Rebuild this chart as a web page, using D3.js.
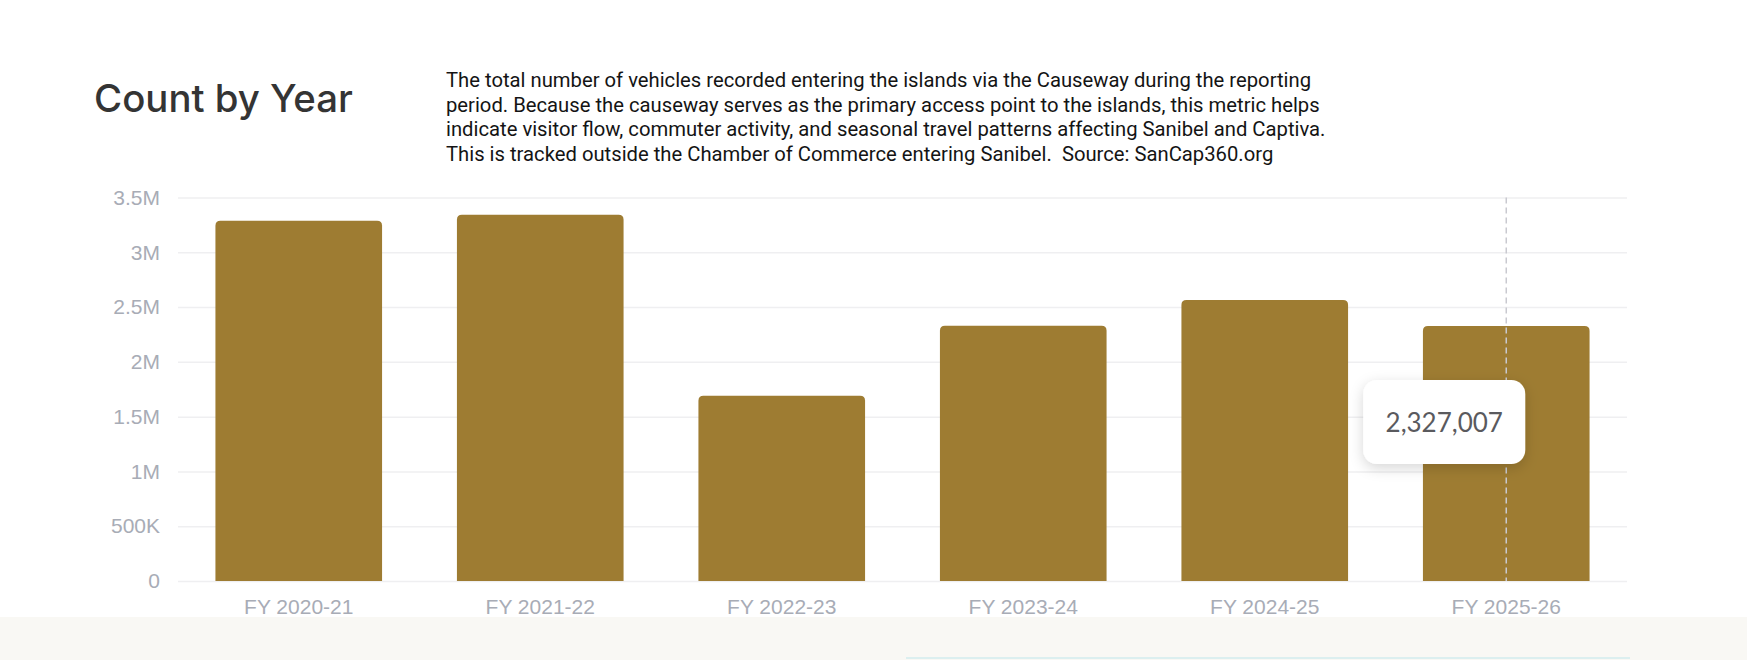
<!DOCTYPE html>
<html>
<head>
<meta charset="utf-8">
<script src="https://cdn.jsdelivr.net/npm/d3@7"></script>
<style>
  body { margin: 0; background: #fff; }
  svg { display: block; }
</style>
</head>
<body>
<svg id="chart" width="1747" height="660"></svg>
<script>
// data
const categories = ["FY 2020-21", "FY 2021-22", "FY 2022-23", "FY 2023-24", "FY 2024-25", "FY 2025-26"];
const counts = [3287000, 3342000, 1691000, 2329000, 2564000, 2327007];
const yTickValues = [0, 500000, 1000000, 1500000, 2000000, 2500000, 3000000, 3500000];
const yTickLabels = ["0", "500K", "1M", "1.5M", "2M", "2.5M", "3M", "3.5M"];
const titleText = "Count by Year";
const descLines = [
    "The total number of vehicles recorded entering the islands via the Causeway during the reporting",
    "period. Because the causeway serves as the primary access point to the islands, this metric helps",
    "indicate visitor flow, commuter activity, and seasonal travel patterns affecting Sanibel and Captiva.",
    "This is tracked outside the Chamber of Commerce entering Sanibel.\u00a0 Source: SanCap360.org"
];
const hoverIndex = 5;

var svg = d3.select("#chart");
var margin = { top: 197.5, right: 120, bottom: 79, left: 178 };
var width = +svg.attr("width");
var height = +svg.attr("height");

var defs = svg.append("defs");
var shadow = defs.append("filter").attr("id", "tipShadow")
    .attr("x", "-30%").attr("y", "-40%").attr("width", "160%").attr("height", "180%");
shadow.append("feDropShadow")
    .attr("dx", 0).attr("dy", 4).attr("stdDeviation", 7)
    .attr("flood-color", "#000").attr("flood-opacity", 0.16);

// footer strip
svg.append("rect").attr("x", 0).attr("y", 617).attr("width", width).attr("height", height - 617).attr("fill", "#f9f8f4");
svg.append("rect").attr("x", 906).attr("y", 657).attr("width", 724).attr("height", 2).attr("fill", "#dcefef");

// title
var title = svg.append("text")
    .attr("x", 94).attr("y", 112)
    .attr("fill", "#343434")
    .style("font-family", "Inter, 'DejaVu Sans', sans-serif")
    .style("font-weight", 500)
    .style("font-size", "38px")
    .text(titleText);
var tw = title.node().getComputedTextLength();
title.style("font-size", (38 * 259 / tw) + "px");

// description
var desc = svg.append("text")
    .attr("fill", "#141414")
    .style("font-family", "Roboto, 'Liberation Sans', sans-serif")
    .style("font-size", "20px");
desc.selectAll("tspan").data(descLines).enter().append("tspan")
    .attr("x", 446)
    .attr("y", (d, i) => 87.3 + i * 24.5)
    .text(d => d);
var longest = desc.select("tspan:nth-child(3)").node().getComputedTextLength();
desc.style("font-size", (20 * 880 / longest) + "px");

// scales
var x = d3.scaleBand()
    .domain(categories)
    .range([margin.left, width - margin.right])
    .paddingInner(0.31)
    .paddingOuter(0.155);
var y = d3.scaleLinear()
    .domain([0, 3500000])
    .range([height - margin.bottom, margin.top]);

// grid
var grid = svg.append("g")
    .attr("transform", "translate(" + margin.left + ",0)")
    .call(d3.axisLeft(y).tickValues(yTickValues).tickSize(-(width - margin.right - margin.left)).tickFormat(""));
grid.select(".domain").remove();
grid.selectAll("line").attr("stroke", "#efeff1").attr("stroke-width", 1.5);

// y labels
var yAxis = svg.append("g")
    .attr("transform", "translate(160,0)")
    .call(d3.axisLeft(y).tickValues(yTickValues).tickSize(0).tickPadding(0)
        .tickFormat((d, i) => yTickLabels[i]));
yAxis.select(".domain").remove();
yAxis.selectAll("text")
    .attr("fill", "#a8acb6")
    .style("font-family", "'Liberation Sans', Arial, sans-serif")
    .style("font-size", "21px");

// x labels
var xAxis = svg.append("g")
    .attr("transform", "translate(0," + y(0) + ")")
    .call(d3.axisBottom(x).tickSize(0).tickPadding(18));
xAxis.select(".domain").remove();
xAxis.selectAll("text")
    .attr("fill", "#a8acb6")
    .style("font-family", "'Liberation Sans', Arial, sans-serif")
    .style("font-size", "21px");

// bars with rounded tops
function topRounded(x0, y0, w, h, r) {
    return "M" + x0 + "," + (y0 + h) +
        "V" + (y0 + r) +
        "Q" + x0 + "," + y0 + " " + (x0 + r) + "," + y0 +
        "H" + (x0 + w - r) +
        "Q" + (x0 + w) + "," + y0 + " " + (x0 + w) + "," + (y0 + r) +
        "V" + (y0 + h) + "Z";
}

svg.append("g").selectAll("path")
    .data(counts)
    .enter()
    .append("path")
    .attr("fill", "#9e7c32")
    .attr("d", (d, i) => topRounded(x(categories[i]), y(d), x.bandwidth(), y(0) - y(d), 5));

// hover marker
var cx = x(categories[hoverIndex]) + x.bandwidth() / 2;
svg.append("line")
    .attr("x1", cx).attr("x2", cx)
    .attr("y1", y(3500000)).attr("y2", y(0))
    .attr("stroke", "#c9c9d0").attr("stroke-width", 1.5)
    .attr("stroke-dasharray", "6,4");

var tip = svg.append("g").attr("transform", "translate(" + (cx - 143) + ",380)");
tip.append("rect")
    .attr("width", 162).attr("height", 84).attr("rx", 14)
    .attr("fill", "#fff")
    .attr("filter", "url(#tipShadow)");
tip.append("text")
    .attr("x", 81).attr("y", 52)
    .attr("text-anchor", "middle")
    .attr("fill", "#5a5a5e")
    .style("font-family", "Lato, 'Open Sans', sans-serif")
    .style("font-size", "26px")
    .text(d3.format(",")(counts[hoverIndex]));
</script>
</body>
</html>
